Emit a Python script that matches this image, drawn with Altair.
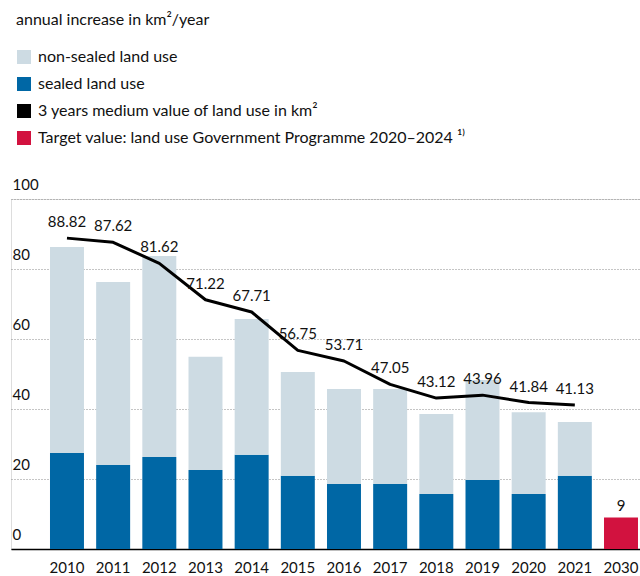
import altair as alt
import pandas as pd

# ---- data ----
years = ["2010", "2011", "2012", "2013", "2014", "2015",
         "2016", "2017", "2018", "2019", "2020", "2021"]
sealed = [27.4, 24.0, 26.3, 22.6, 26.9, 20.9, 18.6, 18.6, 15.7, 19.7, 15.7, 20.9]
non_sealed = [58.9, 52.3, 57.4, 32.3, 38.8, 29.7, 27.1, 27.1, 22.9, 28.6, 23.4, 15.4]
medium = [88.82, 87.62, 81.62, 71.22, 67.71, 56.75, 53.71, 47.05, 43.12, 43.96, 41.84, 41.13]
target_year = "2030"
target_value = 9
all_years = years + [target_year]

S_NON = "non-sealed land use"
S_SEALED = "sealed land use"
S_LINE = "3 years medium value of land use in km²"
S_TARGET = "Target value: land use Government Programme 2020–2024 ¹⁾"
series_names = [S_NON, S_SEALED, S_LINE, S_TARGET]
series_colors = ["#cddbe3", "#0067a5", "#000000", "#d2123f"]
y_ticks = [0, 20, 40, 60, 80, 100]

FONT = "Lato"

# ---- tables ----
rows = []
for y, s, n in zip(years, sealed, non_sealed):
    rows.append({"year": y, "series": S_SEALED, "value": s, "ord": 0})
    rows.append({"year": y, "series": S_NON, "value": n, "ord": 1})
rows.append({"year": target_year, "series": S_TARGET, "value": target_value, "ord": 0})
bar_df = pd.DataFrame(rows)

line_df = pd.DataFrame({"year": years, "value": medium, "series": S_LINE})
line_df["label"] = [f"{v:.2f}" for v in medium]
target_df = pd.DataFrame({"year": [target_year], "value": [target_value],
                          "label": [str(target_value)]})

x_enc = alt.X(
    "year:N", sort=all_years, title=None,
    scale=alt.Scale(domain=all_years, paddingInner=0.264, paddingOuter=0.444, align=0.951),
    axis=alt.Axis(domain=True, domainColor="#000000", domainWidth=1.5, ticks=False,
                  labelPadding=11, labelFontSize=15, labelFont=FONT, labelColor="#111111",
                  labelAngle=0, grid=False),
)
y_scale = alt.Scale(domain=[0, 100], nice=False)

color_scale = alt.Scale(domain=series_names, range=series_colors)

bars = alt.Chart(bar_df).mark_bar().encode(
    x=x_enc,
    y=alt.Y("value:Q", stack="zero", scale=y_scale, title=None,
            axis=alt.Axis(values=y_ticks, grid=True, gridDash=[1, 2], gridColor="#8a8a8a",
                          gridWidth=1, domain=False, ticks=False, tickSize=0,
                          labelAlign="left", labelPadding=-1, labelBaseline="alphabetic",
                          labelOffset=-10, labelFontSize=15, labelFont=FONT,
                          labelColor="#111111")),
    color=alt.Color("series:N", scale=color_scale, sort=series_names,
                    legend=alt.Legend(
                        title="annual increase in km²/year", orient="none",
                        legendX=5, legendY=-187, padding=0,
                        titleFont=FONT, titleFontSize=16, titleFontWeight="normal",
                        titleColor="#111111", titlePadding=21, titleBaseline="top",
                        titleLimit=600,
                        labelFont=FONT, labelFontSize=16, labelColor="#111111",
                        labelOffset=6, labelLimit=600,
                        symbolType="square", symbolSize=196, symbolStrokeWidth=0,
                        symbolOpacity=1, rowPadding=11)),
    order=alt.Order("ord:Q"),
)

line = alt.Chart(line_df).mark_line(strokeWidth=3, strokeJoin="round").encode(
    x=alt.X("year:N", sort=all_years),
    y=alt.Y("value:Q", scale=y_scale),
    color=alt.Color("series:N", scale=color_scale, sort=series_names),
)

line_labels = alt.Chart(line_df).mark_text(
    dy=-11, fontSize=15, font=FONT, color="#111111", baseline="alphabetic"
).encode(
    x=alt.X("year:N", sort=all_years),
    y=alt.Y("value:Q", scale=y_scale),
    text="label:N",
)

target_label = alt.Chart(target_df).mark_text(
    dy=-7, fontSize=15, font=FONT, color="#111111", baseline="alphabetic"
).encode(
    x=alt.X("year:N", sort=all_years),
    y=alt.Y("value:Q", scale=y_scale),
    text="label:N",
)

chart = alt.layer(bars, line, line_labels, target_label).properties(
    width=629, height=350,
    autosize=alt.AutoSizeParams(type="none"),
    padding={"left": 11, "top": 199, "right": 0, "bottom": 27},
).configure_view(stroke=None).configure(background="white")

chart.save("out.html", embed_options={"renderer": "svg", "actions": False})
